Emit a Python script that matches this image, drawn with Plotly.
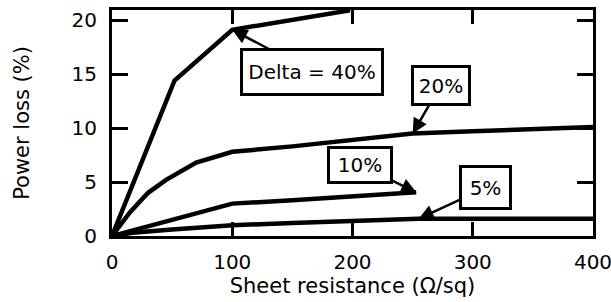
import plotly.graph_objects as go

# ---- data ----
x_40 = [0, 52, 100, 198]
y_40 = [0, 14.4, 19.1, 20.9]

x_20 = [0, 15, 30, 45, 70, 100, 150, 200, 250, 300, 400]
y_20 = [0, 2.2, 4.0, 5.2, 6.8, 7.8, 8.3, 8.9, 9.5, 9.7, 10.1]

x_10 = [0, 20, 40, 73, 100, 150, 200, 253]
y_10 = [0, 0.6, 1.3, 2.2, 3.0, 3.3, 3.7, 4.05]

x_5 = [0, 17, 50, 100, 150, 200, 255, 300, 400]
y_5 = [0, 0.3, 0.6, 1.0, 1.2, 1.4, 1.6, 1.6, 1.6]

labels = ["Delta = 40%", "20%", "10%", "5%"]
x_ticks = [0, 100, 200, 300, 400]
y_ticks = [0, 5, 10, 15, 20]

FONT = "DejaVu Sans"
LW = 4.5

fig = go.Figure()
for xs, ys in [(x_40, y_40), (x_20, y_20), (x_10, y_10), (x_5, y_5)]:
    fig.add_trace(go.Scatter(x=xs, y=ys, mode="lines",
                             line=dict(color="black", width=LW),
                             showlegend=False, hoverinfo="skip"))

# arrow tips taken from the series
tips = [
    (x_40[2], y_40[2]),
    (x_20[8], y_20[8]),
    (x_10[-1], y_10[-1]),
    (x_5[6], y_5[6]),
]
# (ax, ay, box width, box height)
boxes = [
    (80, 42, 138, 42),
    (28, -48, 54, 35),
    (-56, -27, 60, 32),
    (67, -31, 47, 39),
]
for lab, (tx, ty), (ax, ay, w, h) in zip(labels, tips, boxes):
    fig.add_annotation(
        x=tx, y=ty, ax=ax, ay=ay, text=lab,
        showarrow=True, arrowhead=2, arrowsize=1.2, arrowwidth=2.5,
        arrowcolor="black", xanchor="center", yanchor="middle",
        width=w, height=h, borderpad=0,
        bordercolor="black", borderwidth=3, bgcolor="white",
        font=dict(family=FONT, size=20, color="black"),
    )

fig.update_layout(
    width=611, height=302,
    margin=dict(l=112, r=18, t=10, b=66),
    paper_bgcolor="white", plot_bgcolor="white",
    font=dict(family=FONT, color="black"),
)
fig.update_xaxes(
    range=[0, 400], tickvals=x_ticks, ticktext=[str(v) for v in x_ticks],
    showline=True, linecolor="black", linewidth=3, mirror="ticks",
    ticks="inside", ticklen=14, tickwidth=3, tickcolor="black",
    showgrid=False, zeroline=False,
    tickfont=dict(family=FONT, size=20, color="black"),
    ticklabelstandoff=6, ticklabeloverflow="allow",
    title=dict(text="Sheet resistance (Ω/sq)", standoff=2,
               font=dict(family=FONT, size=21, color="black")),
    automargin=False,
)
fig.update_yaxes(
    range=[0, 20.93], tickvals=y_ticks, ticktext=[str(v) for v in y_ticks],
    showline=True, linecolor="black", linewidth=3, mirror="ticks",
    ticks="inside", ticklen=16, tickwidth=3, tickcolor="black",
    showgrid=False, zeroline=False,
    tickfont=dict(family=FONT, size=20, color="black"),
    ticklabelstandoff=8, ticklabeloverflow="allow",
    title=dict(text="Power loss (%)", standoff=37,
               font=dict(family=FONT, size=21, color="black")),
    automargin=False,
)

fig.write_html("out.html", config={"displayModeBar": False},
               post_script="document.body.style.margin='0';document.body.style.overflow='hidden';")
